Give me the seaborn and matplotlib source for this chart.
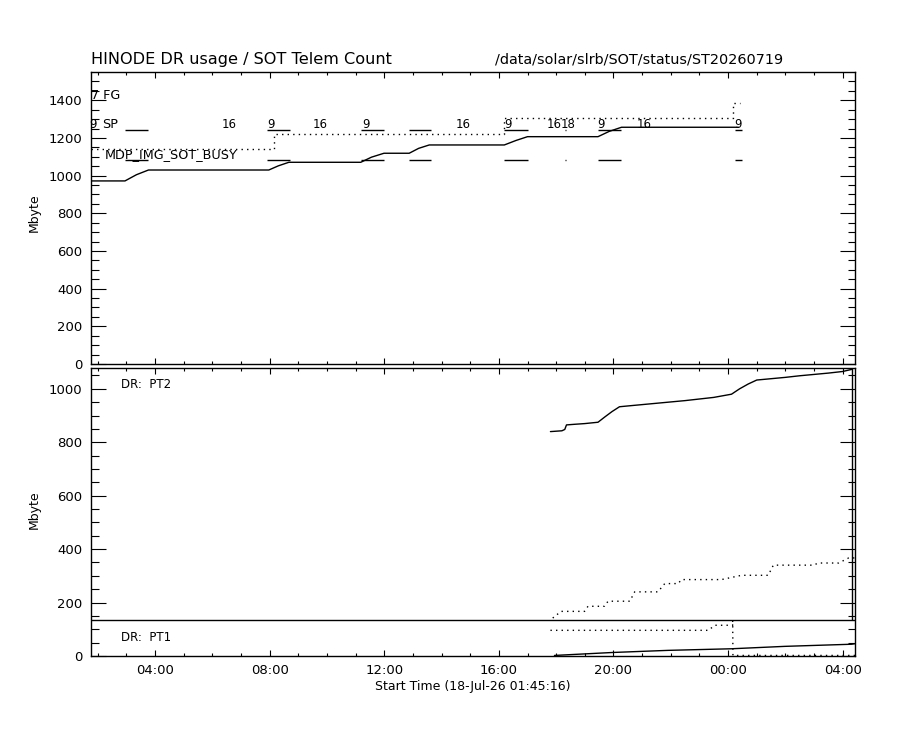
import matplotlib
matplotlib.use('Agg')
import matplotlib.pyplot as plt
import seaborn as sns
from matplotlib.ticker import MultipleLocator, FuncFormatter

# time axis in hours since 18-Jul-26 00:00
t_start = 1 + 45 / 60 + 16 / 3600
t_end = 28.43

# top panel: DR usage (solid) and SOT telemetry count (dotted)
top_solid_t = [1.754, 2.95, 3.35, 3.77, 7.97, 8.30, 8.67, 11.18, 11.55, 11.99, 12.87, 13.20, 13.57,
               16.19, 16.60, 17.00, 19.46, 19.85, 20.28, 24.36]
top_solid_v = [972, 972, 1005, 1030, 1030, 1052, 1071, 1071, 1098, 1119, 1119, 1145, 1163,
               1163, 1187, 1207, 1207, 1235, 1257, 1257]
top_dot_t = [1.754, 8.14, 8.14, 16.17, 16.17, 24.18, 24.18, 24.42]
top_dot_v = [1140, 1140, 1220, 1220, 1308, 1308, 1384, 1384]

# SP / MDP_IMG_SOT_BUSY events
ev_start = [2.95, 7.91, 11.20, 12.87, 16.19, 18.30, 19.46, 24.23]
ev_end = [3.77, 8.70, 11.99, 13.63, 17.01, 18.36, 20.27, 24.47]
lab9_t = [1.85, 8.03, 11.35, 16.31, 19.56, 24.35]
lab16_t = [6.57, 9.78, 14.74, 17.94, 21.06]
lab18_t = [18.41]

# bottom panel: DR partitions
pt2_solid_t = [17.80, 18.20, 18.30, 18.36, 18.60, 19.00, 19.46, 19.70, 19.95, 20.21, 20.60, 21.00,
               21.50, 22.00, 22.50, 23.00, 23.50, 24.12, 24.40, 24.70, 25.00, 25.50, 26.00, 26.50,
               27.00, 27.50, 28.00, 28.32]
pt2_solid_v = [840, 843, 848, 865, 867, 870, 875, 895, 915, 933, 937, 941,
               946, 951, 956, 962, 968, 980, 1000, 1018, 1033, 1038, 1043, 1049,
               1054, 1059, 1065, 1073]
pt2_dot_t = [17.88, 18.17, 18.99, 19.11, 19.69, 19.81, 20.57, 20.74, 21.55, 21.79, 22.26, 22.37,
             23.77, 24.47, 25.40, 25.58, 26.98, 27.15, 27.86, 28.21, 28.43]
pt2_dot_v = [142, 167, 167, 186, 186, 205, 205, 240, 240, 271, 271, 286,
             286, 302, 302, 340, 340, 348, 348, 367, 367]
pt1_dot_t = [17.80, 23.31, 23.54, 24.16, 24.16, 24.17, 28.43]
pt1_dot_v = [96, 96, 115, 115, 133, 2, 2]
pt1_solid_t = [17.94, 19.95, 21.90, 24.12, 25.98, 28.32, 28.43]
pt1_solid_v = [2, 13, 21, 27, 36, 44, 46]
pt_split = 133
pt2_box_end = 28.33

sns.set_style('ticks')
plt.rcParams['font.family'] = ['DejaVu Sans']
plt.rcParams['text.color'] = 'k'
plt.rcParams['axes.labelcolor'] = 'k'

fig = plt.figure(figsize=(9, 7.3), dpi=100)
ax1 = fig.add_axes([0.1008, 0.5014, 0.8492, 0.3996])
ax2 = fig.add_axes([0.1008, 0.1014, 0.8492, 0.3941])

dots = (0, (1, 3))
sns.lineplot(x=top_solid_t, y=top_solid_v, ax=ax1, color='k', lw=1, estimator=None, sort=False)
sns.lineplot(x=top_dot_t, y=top_dot_v, ax=ax1, color='k', lw=1, linestyle=dots, estimator=None, sort=False)
ax1.hlines([1243] * len(ev_start), ev_start, ev_end, color='k', lw=1)
ax1.hlines([1083] * len(ev_start), ev_start, ev_end, color='k', lw=1)
for t in lab9_t:
    ax1.text(t, 1269, '9', ha='center', va='center', fontsize=8.5)
for t in lab16_t:
    ax1.text(t, 1269, '16', ha='center', va='center', fontsize=8.5)
for t in lab18_t:
    ax1.text(t, 1269, '18', ha='center', va='center', fontsize=8.5)
ax1.text(1.77, 1428, '7 FG', ha='left', va='center', fontsize=9.2)
ax1.text(2.15, 1269, 'SP', ha='left', va='center', fontsize=9.2)
ax1.text(2.26, 1110, 'MDP_IMG_SOT_BUSY', ha='left', va='center', fontsize=9.2)

sns.lineplot(x=pt2_solid_t, y=pt2_solid_v, ax=ax2, color='k', lw=1, estimator=None, sort=False)
sns.lineplot(x=pt2_dot_t, y=pt2_dot_v, ax=ax2, color='k', lw=1, linestyle=dots, estimator=None, sort=False)
sns.lineplot(x=pt1_solid_t, y=pt1_solid_v, ax=ax2, color='k', lw=1, estimator=None, sort=False)
sns.lineplot(x=pt1_dot_t, y=pt1_dot_v, ax=ax2, color='k', lw=1, linestyle=dots, estimator=None, sort=False)
ax2.axhline(pt_split, color='k', lw=1)
ax2.vlines(pt2_box_end, pt_split, 1077, color='k', lw=1)
ax2.text(2.81, 1015, 'DR:  PT2', ha='left', va='center', fontsize=8.5)
ax2.text(2.81, 70, 'DR:  PT1', ha='left', va='center', fontsize=8.5)

ax1.set_ylim(0, 1549)
ax2.set_ylim(0, 1077)
for ax in (ax1, ax2):
    ax.set_xlim(t_start, t_end)
    ax.xaxis.set_major_locator(MultipleLocator(4))
    ax.xaxis.set_minor_locator(MultipleLocator(1))
    ax.yaxis.set_major_locator(MultipleLocator(200))
    ax.yaxis.set_minor_locator(MultipleLocator(50))
    ax.tick_params(which='both', direction='in', top=True, right=True, colors='k', labelsize=9.5)
    ax.tick_params(axis='x', which='major', length=4.3, width=0.8, pad=6)
    ax.tick_params(axis='x', which='minor', length=2.2, width=0.8)
    ax.tick_params(axis='y', which='major', length=10.8, width=0.8, pad=6)
    ax.tick_params(axis='y', which='minor', length=5.4, width=0.8)
    for s in ax.spines.values():
        s.set_color('k')
        s.set_linewidth(1)
    ax.set_ylabel('Mbyte', fontsize=9)

ax1.set_xticklabels([])
ax1.yaxis.set_label_coords(-0.065, 0.52)
ax2.yaxis.set_label_coords(-0.065, 0.507)
ax2.xaxis.set_major_formatter(FuncFormatter(lambda x, _: f"{int(round(x)) % 24:02d}:00"))
ax2.set_xlabel('Start Time (18-Jul-26 01:45:16)', fontsize=9, labelpad=2)

fig.text(0.1008, 0.918, 'HINODE DR usage / SOT Telem Count', fontsize=11.6, ha='left', va='center')
fig.text(0.55, 0.918, '/data/solar/slrb/SOT/status/ST20260719', fontsize=10.4, ha='left', va='center')

fig.savefig('out.png', dpi=100, facecolor='white')
